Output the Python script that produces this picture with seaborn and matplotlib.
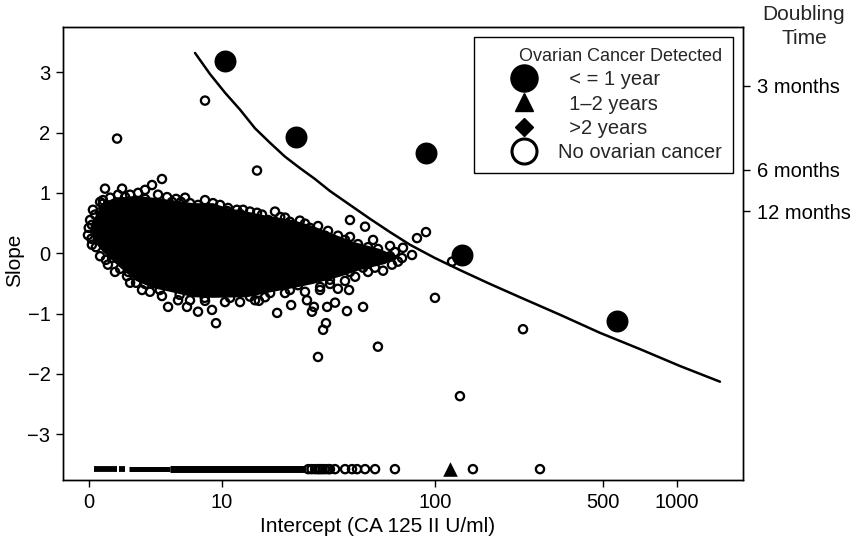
import numpy as np
import matplotlib
matplotlib.use("Agg")
import matplotlib.pyplot as plt
from matplotlib.lines import Line2D
import seaborn as sns

# ---- data -------------------------------------------------------------
# women without ovarian cancer: individual (intercept, slope) estimates
open_intercept = [1.22, 7.93, 15.45, 3.96, 3.25, 0.66, 1.47, 1.63, 2.36, 0.45,
                  0.16, 4.75, 5.52, 6.36, 7.17, 8.86, 14.2, 15.45, 12.1, 17.6,
                  20.2, 22.5, 25.1, 42.6, 49.7, 42.6, 53.9, 63.9, 72.7, 83.5,
                  91.2, 79.5, 72.0, 63.9, 59.6, 48.7, 44.9, 99.6, 117.6, 56.6,
                  32.2, 33.2, 28.6, 29.2, 27.1, 22.8, 19.5, 36.5, 41.3, 48.7,
                  42.2, 37.6, 33.6, 15.8, 9.23, 7.17, 8.74, 6.07, 4.43, 2.24,
                  1.73, 1.37, 0.70, 0.28, 0.10, 0.0, 24.6, 30.2, 31.2, 30.5,
                  127.0, 233.0, 0.57, 2.79, 10.67, 12.6, 19.0, 28.0, 32.9, 38.4,
                  47.2, 52.3, 42.6, 34.6, 22.5, 18.0, 14.2, 11.1, 7.9, 5.4,
                  3.8, 2.8, 1.8, 0.98, 0.36, 0.12, 0.45,
                  0.24, 0.57, 0.89, 1.27, 1.90, 2.79, 3.67, 4.35, 5.09, 5.89,
                  7.93, 9.74, 10.81, 13.05, 16.39, 19.03, 21.31, 26.53, 30.51, 33.91,
                  37.64, 40.47, 46.24, 51.2, 56.64, 67.14, 69.17,
                  65.17, 54.95, 51.2, 40.47, 34.62, 31.16, 26.53, 21.31, 16.97, 15.09,
                  12.58, 10.40, 7.93, 6.36, 5.26, 3.96, 3.11, 2.60, 1.90, 1.12,
                  0.79, 0.45, 0.12, -0.03, 0.05]
open_slope = [1.90, 2.53, 1.37, 1.23, 1.13, 1.07, 1.07, 0.93, 1.00, 0.85,
              0.72, 0.85, 0.85, 0.83, 0.80, 0.83, 0.69, 0.67, 0.72, 0.55,
              0.60, 0.52, 0.54, 0.55, 0.44, 0.27, 0.22, 0.12, 0.09, 0.25,
              0.35, -0.03, -0.08, -0.05, -0.29, -0.24, -0.39, -0.74, -0.14, -1.55,
              -1.27, -1.16, -0.97, -0.89, -0.78, -0.86, -0.99, -0.82, -0.96, -0.89,
              -0.61, -0.59, -0.89, -0.79, -1.16, -0.97, -0.94, -0.89, -0.89, -0.49,
              -0.38, -0.26, -0.11, 0.10, 0.24, 0.42, -0.53, -0.39, -0.56, -1.72,
              -2.37, -1.26, 0.88, 0.90, 0.70, 0.65, 0.52, 0.42, 0.29, 0.17,
              0.07, -0.15, -0.31, -0.44, -0.61, -0.66, -0.72, -0.74, -0.74, -0.69,
              -0.61, -0.51, -0.31, -0.08, 0.22, 0.47, 0.68,
              0.64, 0.82, 0.92, 0.97, 0.97, 1.05, 0.97, 0.93, 0.90, 0.92,
              0.88, 0.80, 0.75, 0.72, 0.64, 0.69, 0.59, 0.49, 0.45, 0.37,
              0.29, 0.22, 0.15, 0.10, 0.07, 0.02, -0.14,
              -0.19, -0.24, -0.31, -0.46, -0.51, -0.61, -0.64, -0.66, -0.73, -0.78,
              -0.81, -0.81, -0.79, -0.78, -0.78, -0.71, -0.64, -0.61, -0.49, -0.31,
              -0.19, -0.05, 0.14, 0.30, 0.55]

# outline of the saturated centre of the cloud
core_intercept = [0.05, 0.32, 0.57, 1.12, 2.30, 3.32, 6.66, 8.86, 10.67, 13.71,
                  17.37, 23.28, 28.92, 35.73, 43.94, 57.79, 69.17, 60.77, 47.2, 38.43,
                  28.92, 23.28, 18.61, 13.71, 8.86, 6.66, 4.59, 3.32, 2.24, 1.37,
                  0.57, 0.16]
core_slope = [0.42, 0.67, 0.83, 0.92, 0.95, 0.92, 0.83, 0.83, 0.75, 0.69,
              0.62, 0.55, 0.45, 0.32, 0.19, 0.07, -0.06, -0.18, -0.28, -0.39,
              -0.51, -0.58, -0.64, -0.73, -0.74, -0.73, -0.64, -0.58, -0.46, -0.24,
              0.02, 0.22]

# women with a single value (no slope), drawn on a baseline row
row_slope = -3.58
row_band_start = [0.2, 1.32, 1.83, 4.6]
row_band_end = [1.2, 1.63, 4.6, 26.8]
row_band_weight = [4.2, 4.2, 3.6, 5.0]
row_circle_intercept = [27.5, 28.5, 29.6, 30.5, 31.2, 32.0, 32.9, 34.0, 34.6,
                        36.5, 40.5, 43.5, 45.8, 49.7, 55.0, 67.1, 144.0, 274.0]

# ovarian cancer detected
early_intercept = [10.4, 24.0, 91.3, 129.7, 569.0]   # <= 1 year
early_slope = [3.19, 1.93, 1.66, -0.03, -1.12]
mid_intercept = [115.3]                              # 1-2 years
mid_slope = [-3.58]

# doubling-time boundary curve
curve_intercept = [6.86, 8.50, 10.40, 12.58, 15.09, 17.98, 21.31, 25.13, 29.54, 34.63,
                   42.61, 52.25, 63.88, 77.92, 99.6, 127.1, 169.8, 226.3, 331.5, 484.5,
                   707.5, 1032.0, 1505.0]
curve_slope = [3.32, 2.97, 2.66, 2.38, 2.07, 1.83, 1.60, 1.41, 1.23, 1.03,
               0.80, 0.57, 0.35, 0.14, -0.08, -0.28, -0.51, -0.73, -1.02, -1.32,
               -1.59, -1.87, -2.13]

x_ticks = [0, 10, 100, 500, 1000]
y_ticks = [-3, -2, -1, 0, 1, 2, 3]
doubling_years = [0.25, 0.5, 1.0]
doubling_labels = ["3 months", "6 months", "12 months"]

# ---- style ------------------------------------------------------------
sns.set_theme(style="ticks")
FONT = ["Liberation Sans", "DejaVu Sans"]
plt.rcParams["font.family"] = FONT
plt.rcParams["axes.unicode_minus"] = True
FS = 14.5

W, H = 862, 544
fig = plt.figure(figsize=(W / 100, H / 100), dpi=100)
ax = fig.add_axes([63 / W, 1 - 480 / H, 680 / W, 453 / H])


def fwd(x):
    return np.log10(np.maximum(np.asarray(x, dtype=float) + 4.0, 1e-6))


def inv(t):
    return 10.0 ** np.asarray(t, dtype=float) - 4.0


ax.set_xscale("function", functions=(fwd, inv))
ax.set_xlim(-0.86, 1870)
ax.set_ylim(-3.76, 3.75)

ring = dict(marker="o", s=35, facecolors="none", edgecolors="black", linewidth=1.65)

# dense centre of the cloud
ax.fill(core_intercept, core_slope, color="black", lw=0, zorder=2)

# open circles
sns.scatterplot(x=open_intercept, y=open_slope, ax=ax, zorder=3, **ring)

# baseline row
ax.hlines([row_slope] * len(row_band_start), row_band_start, row_band_end,
          colors="black", linewidths=row_band_weight, zorder=3)
sns.scatterplot(x=row_circle_intercept, y=[row_slope] * len(row_circle_intercept),
                ax=ax, zorder=3, **ring)

# detected cancers
sns.scatterplot(x=early_intercept, y=early_slope, ax=ax, marker="o", s=250,
                color="black", edgecolor="black", linewidth=0, zorder=4)
sns.scatterplot(x=mid_intercept, y=mid_slope, ax=ax, marker="^", s=110,
                color="black", edgecolor="black", linewidth=0, zorder=4)

# boundary curve
sns.lineplot(x=curve_intercept, y=curve_slope, ax=ax, color="black", lw=1.8,
             sort=False, estimator=None, zorder=3)

# axes
for s in ax.spines.values():
    s.set_visible(True)
    s.set_color("black")
    s.set_linewidth(1.0)
ax.set_xticks(x_ticks)
ax.set_xticklabels([str(v) for v in x_ticks], fontfamily=FONT)
ax.set_yticks(y_ticks)
ax.set_yticklabels([str(v).replace("-", "\u2212") for v in y_ticks], fontfamily=FONT)
ax.minorticks_off()
ax.tick_params(axis="both", direction="out", length=5, width=1, colors="black",
               labelsize=FS, pad=4)
ax.set_xlabel("Intercept (CA 125 II U/ml)", fontsize=15, color="black",
              fontfamily=FONT)
ax.xaxis.set_label_coords(0.462, -0.082)
ax.set_ylabel("Slope", fontsize=15, color="black", fontfamily=FONT)
ax.yaxis.set_label_coords(-0.058, 0.486)

ax2 = ax.twinx()
ax2.set_ylim(ax.get_ylim())
ax2.set_yticks([np.log(2) / y for y in doubling_years])
ax2.set_yticklabels(doubling_labels, fontfamily=FONT)
ax2.tick_params(axis="y", direction="out", length=5, width=1, colors="black",
                labelsize=FS, pad=5)
ax2.minorticks_off()
for s in ax2.spines.values():
    s.set_color("black")
    s.set_linewidth(1.0)
fig.text(804 / W, 1 - 15 / H, "Doubling", ha="center", va="center", fontsize=15,
         fontfamily=FONT)
fig.text(804 / W, 1 - 39 / H, "Time", ha="center", va="center", fontsize=15,
         fontfamily=FONT)

# legend
handles = [
    Line2D([], [], ls="", marker="o", ms=19.5, mfc="black", mec="black"),
    Line2D([], [], ls="", marker="^", ms=13, mfc="black", mec="black"),
    Line2D([], [], ls="", marker="D", ms=9, mfc="black", mec="black"),
    Line2D([], [], ls="", marker="o", ms=18, mfc="white", mec="black", mew=2.2),
]
labels = ["  < = 1 year", "  1\u20132 years", "  >2 years", "No ovarian cancer"]
leg = ax2.legend(handles, labels, title="Ovarian Cancer Detected", loc="upper right",
                 bbox_to_anchor=(0.985, 0.978), borderaxespad=0, frameon=True,
                 fancybox=False, edgecolor="black", framealpha=1,
                 prop={"family": FONT, "size": 14.5},
                 title_fontproperties={"family": FONT, "size": 13},
                 labelspacing=0.26, handletextpad=-0.2, borderpad=0.55,
                 handlelength=3.8, alignment="right")
leg.get_frame().set_linewidth(1.0)

fig.savefig("out.png", dpi=100, facecolor="white")
